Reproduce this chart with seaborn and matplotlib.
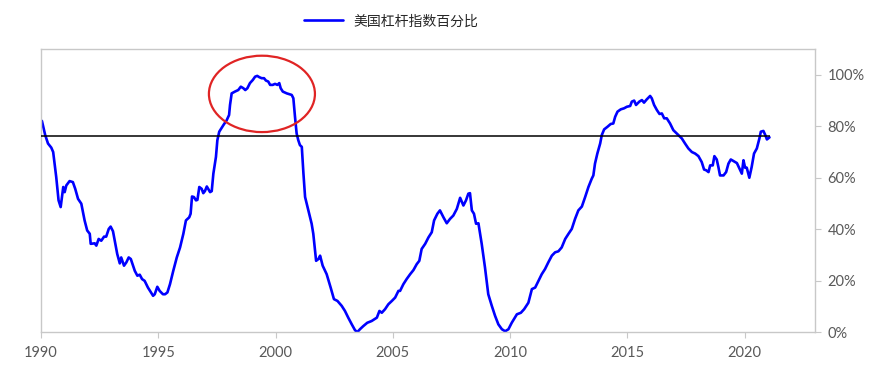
import numpy as np
import pandas as pd
import matplotlib
matplotlib.use("Agg")
import matplotlib.pyplot as plt
from matplotlib.patches import Ellipse
from matplotlib.ticker import FuncFormatter
import seaborn as sns

series_name = "美国杠杆指数百分比"

years = [
    1990.04, 1990.18, 1990.30, 1990.44, 1990.52, 1990.65, 1990.75, 1990.84, 1990.95, 1991.01,
    1991.08, 1991.22, 1991.36, 1991.46, 1991.58, 1991.72, 1991.86, 1991.97, 1992.08, 1992.12,
    1992.29, 1992.36, 1992.46, 1992.57, 1992.69, 1992.78, 1992.89, 1992.97, 1993.07, 1993.17,
    1993.25, 1993.36, 1993.42, 1993.54, 1993.64, 1993.74, 1993.83, 1994.00, 1994.11, 1994.21,
    1994.31, 1994.42, 1994.56, 1994.78, 1994.85, 1994.96, 1995.06, 1995.20,
    1995.29, 1995.39, 1995.50, 1995.64, 1995.79, 1995.93, 1996.07, 1996.18, 1996.32, 1996.38,
    1996.44, 1996.52, 1996.61, 1996.67, 1996.75, 1996.85, 1996.92, 1996.99, 1997.07, 1997.15,
    1997.21, 1997.28, 1997.35, 1997.46, 1997.52, 1997.60, 1997.78, 1997.92, 1998.02, 1998.06,
    1998.13, 1998.27, 1998.41, 1998.52, 1998.63, 1998.71, 1998.80, 1998.91, 1999.03, 1999.13,
    1999.22, 1999.31, 1999.41, 1999.51, 1999.59, 1999.69, 1999.77, 1999.88, 1999.98, 2000.08,
    2000.16, 2000.22,
    2000.31, 2000.48, 2000.69, 2000.76, 2000.83, 2000.90, 2000.97, 2001.04, 2001.12, 2001.19,
    2001.26, 2001.40, 2001.54, 2001.61, 2001.73, 2001.83, 2001.90, 2002.01, 2002.18, 2002.35,
    2002.49, 2002.64, 2002.82, 2002.96, 2003.10, 2003.25, 2003.39, 2003.49, 2003.60, 2003.74,
    2003.91, 2004.10, 2004.32, 2004.43, 2004.53, 2004.67, 2004.81, 2004.96,
    2005.10, 2005.24, 2005.31, 2005.45, 2005.59, 2005.74, 2005.88, 2006.02, 2006.13, 2006.23,
    2006.38, 2006.52, 2006.66, 2006.76, 2006.90, 2007.01, 2007.16, 2007.30, 2007.44, 2007.58,
    2007.73, 2007.87, 2008.01, 2008.12, 2008.22, 2008.29, 2008.37, 2008.46, 2008.55, 2008.65,
    2008.79, 2008.93, 2009.07, 2009.22, 2009.36, 2009.50, 2009.65,
    2009.79, 2009.93, 2010.07, 2010.29, 2010.46, 2010.60, 2010.78, 2010.93, 2011.07, 2011.21,
    2011.35, 2011.49, 2011.63, 2011.78, 2011.92, 2012.06, 2012.20, 2012.35, 2012.49, 2012.63,
    2012.77, 2012.91, 2013.06, 2013.20, 2013.34, 2013.48, 2013.55, 2013.62, 2013.72, 2013.84,
    2013.91, 2014.01, 2014.15, 2014.29, 2014.40, 2014.48, 2014.58, 2014.72, 2014.86, 2014.98,
    2015.12,
    2015.19, 2015.29, 2015.37, 2015.51, 2015.62, 2015.71, 2015.83, 2015.97, 2016.04, 2016.14,
    2016.26, 2016.37, 2016.47, 2016.57, 2016.68, 2016.82, 2016.96, 2017.13, 2017.32, 2017.46,
    2017.60, 2017.75, 2017.89, 2018.03, 2018.17, 2018.27, 2018.36, 2018.46, 2018.53, 2018.64,
    2018.71, 2018.81, 2018.88, 2018.95, 2019.10, 2019.21, 2019.31, 2019.41, 2019.52, 2019.67,
    2019.78, 2019.88, 2019.95, 2020.02, 2020.09, 2020.20, 2020.30, 2020.40, 2020.52, 2020.63,
    2020.69, 2020.80, 2020.88, 2020.95, 2021.06,
]

leverage_pct = [
    82.1, 76.6, 73.3, 71.7, 70.0, 60.3, 51.2, 48.6, 56.4, 54.4,
    57.0, 58.7, 58.3, 55.7, 51.8, 49.9, 43.4, 39.5, 38.2, 34.3,
    34.5, 33.6, 36.2, 35.5, 37.1, 37.1, 40.1, 41.0, 39.2, 34.3,
    30.4, 26.7, 29.0, 25.8, 27.1, 29.0, 28.4, 23.8, 21.9, 22.3,
    20.6, 19.9, 17.3, 14.1, 14.7, 17.6, 16.0, 14.7,
    14.7, 15.4, 18.6, 23.8, 29.0, 32.9, 38.2, 43.4, 44.6, 46.0,
    52.7, 52.5, 51.2, 51.4, 56.4, 55.7, 54.0, 54.8, 56.6, 55.3,
    54.4, 54.8, 61.6, 68.1, 74.6, 77.9, 80.5, 82.4, 84.4, 88.3,
    92.8, 93.5, 94.1, 95.4, 94.8, 94.1, 94.8, 96.8, 98.0, 99.3,
    99.6, 99.1, 98.7, 98.7, 97.8, 97.4, 96.1, 96.1, 96.5, 96.1,
    96.8, 94.8,
    93.5, 92.8, 92.2, 90.9, 83.7, 77.2, 74.6, 72.7, 72.0, 61.6,
    52.5, 47.3, 42.1, 38.2, 27.7, 28.4, 29.7, 25.8, 22.5, 17.3,
    12.8, 12.1, 10.2, 8.2, 5.6, 3.0, 0.7, 0.0, 1.1, 2.3,
    3.6, 4.3, 5.6, 8.2, 7.5, 8.9, 10.8, 12.1,
    13.4, 16.0, 16.0, 18.6, 20.6, 22.5, 24.1, 26.4, 27.7, 32.3,
    34.3, 36.8, 38.8, 43.4, 46.0, 47.3, 44.6, 42.3, 44.0, 45.3,
    47.9, 52.2, 49.2, 51.2, 53.8, 54.0, 47.3, 46.0, 42.1, 42.3,
    34.3, 25.1, 14.7, 10.2, 6.3, 3.0, 1.1,
    0.3, 1.1, 3.6, 6.9, 7.5, 8.9, 11.4, 16.7, 17.3, 19.9,
    22.5, 24.5, 27.1, 29.7, 31.0, 31.4, 32.9, 36.2, 38.2, 40.1,
    44.0, 47.3, 48.8, 52.5, 56.4, 59.6, 60.9, 65.5, 69.4, 73.3,
    76.6, 78.8, 79.8, 80.9, 81.1, 83.7, 85.7, 86.6, 87.0, 87.6,
    87.9,
    89.6, 90.0, 88.3, 89.6, 90.2, 89.2, 90.5, 91.8, 90.9, 88.3,
    86.3, 84.8, 85.0, 83.1, 83.1, 81.1, 78.5, 77.0, 75.3, 73.3,
    71.4, 70.0, 69.4, 68.4, 66.1, 63.2, 62.9, 62.2, 64.8, 64.8,
    68.4, 67.1, 64.2, 60.9, 60.9, 62.2, 65.5, 67.1, 66.5, 65.7,
    63.6, 61.6, 66.8, 63.9, 63.9, 60.0, 64.2, 69.4, 71.4, 75.3,
    77.9, 78.2, 76.6, 74.9, 75.7,
]

average_pct = 76.2
x_ticks = [1990, 1995, 2000, 2005, 2010, 2015, 2020]
y_ticks = [0, 20, 40, 60, 80, 100]

df = pd.DataFrame({"year": years, "pct": leverage_pct})

sns.set_style("white")
plt.rcParams["font.family"] = ["Noto Sans CJK SC", "DejaVu Sans"]

fig = plt.figure(figsize=(8.83, 3.87), dpi=100)
ax = fig.add_axes([0.0464, 0.142, 0.8766, 0.731])

sns.lineplot(data=df, x="year", y="pct", ax=ax, color="#0000FF", linewidth=1.9,
             label=series_name, legend=False)
ax.hlines(average_pct, years[0] - 0.04, years[-1], color="black", linewidth=1.1, zorder=3)

ell = Ellipse((1999.42, 92.6), 4.52, 29.7, fill=False, edgecolor="#E02424", linewidth=1.6, zorder=4)
ax.add_patch(ell)

ax.set_xlim(1990, 2023)
ax.set_ylim(0, 110)
ax.set_xticks(x_ticks)
ax.set_yticks(y_ticks)
ax.yaxis.tick_right()
ax.yaxis.set_major_formatter(FuncFormatter(lambda v, p: f"{int(v)}%"))
ax.set_xlabel("")
ax.set_ylabel("")

for s in ax.spines.values():
    s.set_visible(True)
    s.set_color("#C8C8C8")
    s.set_linewidth(1.0)

ax.tick_params(axis="x", bottom=True, length=4, width=0.8, color="#C8C8C8",
               labelsize=10.5, labelcolor="#595959", pad=6)
ax.tick_params(axis="y", right=True, left=False, length=4, width=0.8, color="#C8C8C8",
               labelsize=10.5, labelcolor="#595959", pad=5)
for lab in ax.get_xticklabels() + ax.get_yticklabels():
    lab.set_family(["Lato", "DejaVu Sans"])

handles, labels = ax.get_legend_handles_labels()
fig.legend(handles, labels, loc="center", bbox_to_anchor=(0.443, 0.945), frameon=False,
           fontsize=10, handlelength=2.8, handletextpad=0.8)

fig.savefig("out.png", dpi=100)
